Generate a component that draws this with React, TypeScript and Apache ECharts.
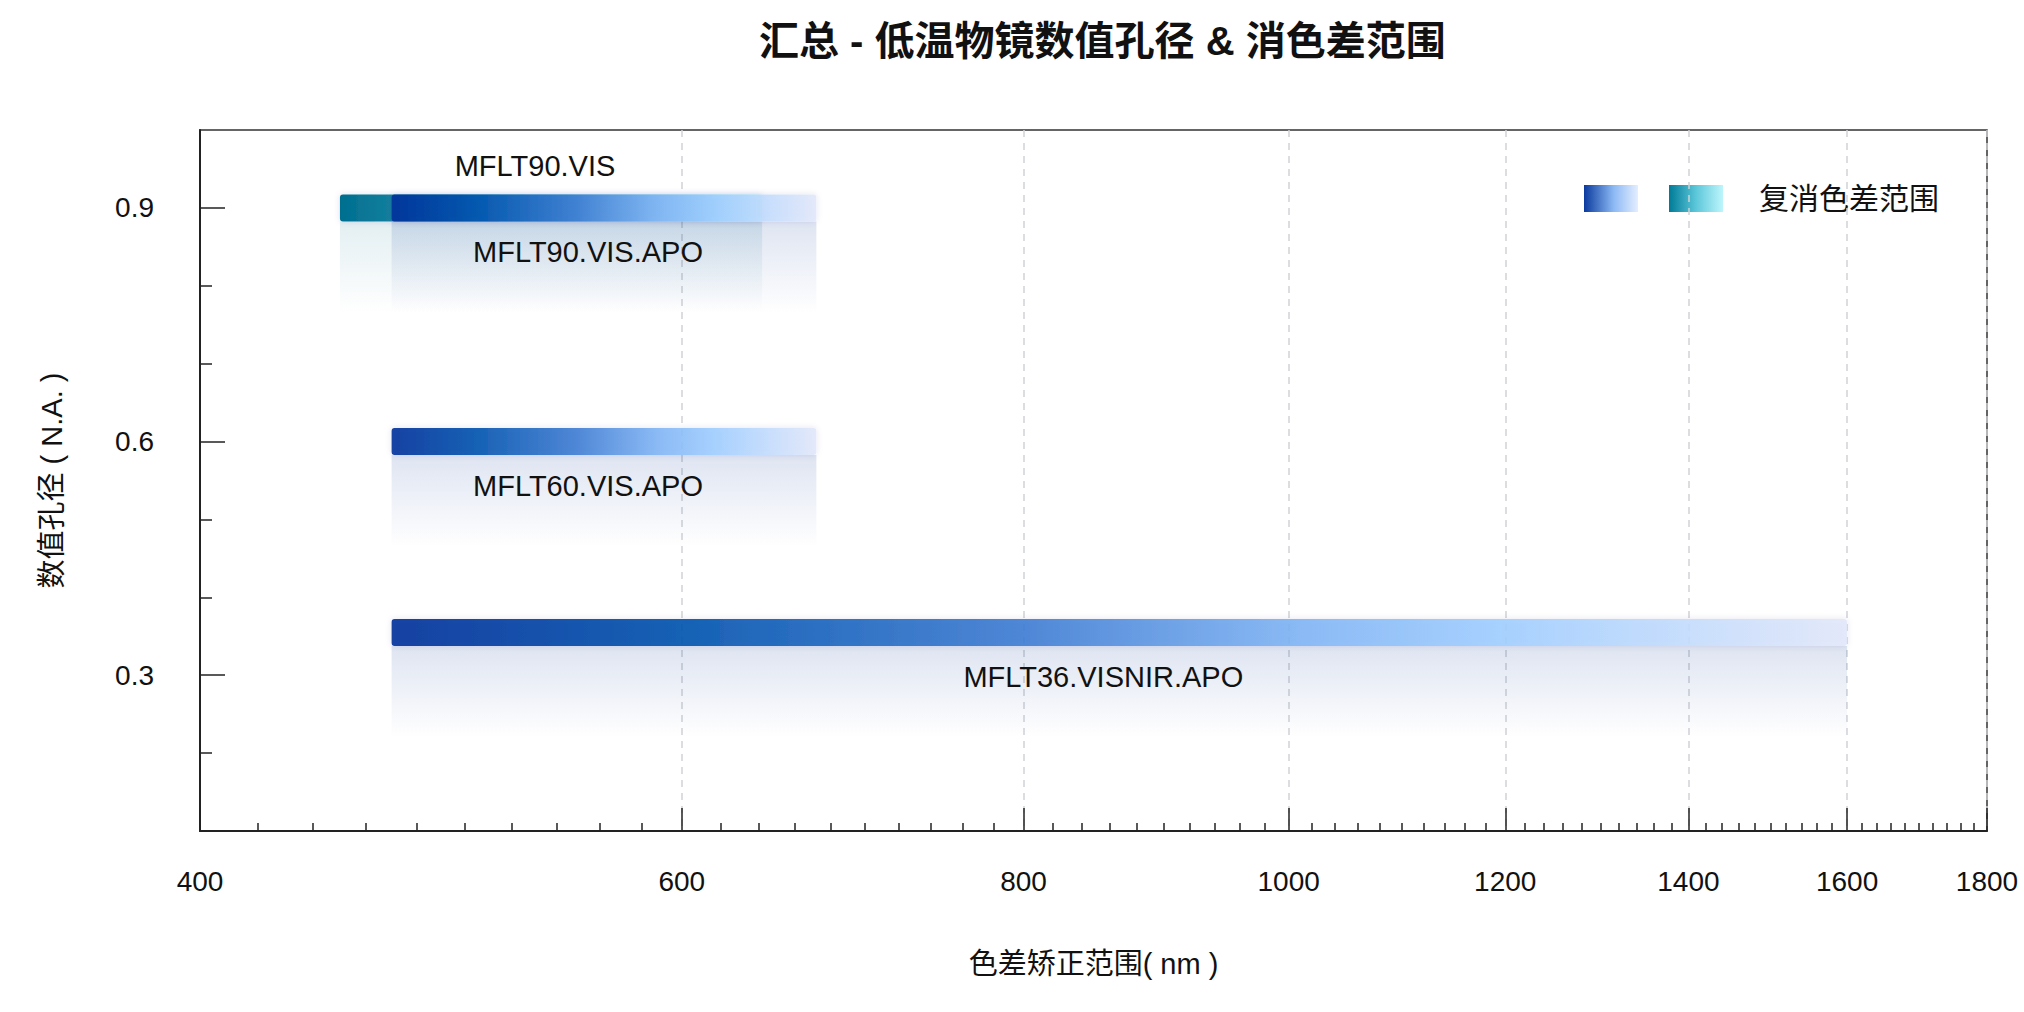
import React, { useEffect, useRef } from 'react';
import * as echarts from 'echarts';

// ---- data ----
const models = ['MFLT90.VIS', 'MFLT90.VIS.APO', 'MFLT60.VIS.APO', 'MFLT36.VISNIR.APO'];
const numericalAperture = [0.9, 0.9, 0.6, 0.355];
const rangeStartNm = [450, 470, 470, 470];
const rangeEndNm = [642, 672, 672, 1600];
const isApochromat = [false, true, true, true];

const xRangeNm = [400, 1800];
const xMajorTicks = [400, 600, 800, 1000, 1200, 1400, 1600, 1800];
const xMinorStepNm = 20;
const yRange = [0.1, 1.0];
const yMajorTicks = [0.3, 0.6, 0.9];
const yMinorTicks = [0.2, 0.4, 0.5, 0.7, 0.8];

const titleText = '汇总 - 低温物镜数值孔径 & 消色差范围';
const xAxisName = '色差矫正范围( nm )';
const yAxisName = '数值孔径 ( N.A. )';
const legendLabel = '复消色差范围';

// ---- styles ----
const FONT = "'Liberation Sans', Arial, 'Noto Sans CJK SC', sans-serif";
const TEXT = '#111';
const AXIS = '#222';

const blueStops = [
  { offset: 0, color: '#002f9a' },
  { offset: 0.2, color: '#0052ae' },
  { offset: 0.43, color: '#3d7bd2' },
  { offset: 0.62, color: '#7fb3f4' },
  { offset: 0.76, color: '#9fcdff' },
  { offset: 0.89, color: '#c4dcfd' },
  { offset: 1, color: '#e2e8fa' },
];
const tealStops = [
  { offset: 0, color: '#006e8f' },
  { offset: 0.5, color: '#4fb5cf' },
  { offset: 1, color: '#bff4fb' },
];

const lg = (x2: number, y2: number, stops: any[]) =>
  new echarts.graphic.LinearGradient(0, 0, x2, y2, stops);

const log10 = (v: number) => Math.log10(v);

function buildMinorTicks(): number[] {
  const out: number[] = [];
  for (let v = xRangeNm[0] + xMinorStepNm; v < xRangeNm[1]; v += xMinorStepNm) {
    if (!xMajorTicks.includes(v)) out.push(v);
  }
  return out;
}

export default function App() {
  const ref = useRef<HTMLDivElement>(null);

  useEffect(() => {
    document.body.style.margin = '0';
    const chart = echarts.init(ref.current!, null, { renderer: 'svg' });

    const seriesData = models.map((m, i) => [
      log10(rangeStartNm[i]),
      log10(rangeEndNm[i]),
      numericalAperture[i],
    ]);

    const renderItem = (params: any, api: any) => {
      const i = params.dataIndex;
      const p0 = api.coord([api.value(0), api.value(2)]);
      const p1 = api.coord([api.value(1), api.value(2)]);
      const apo = isApochromat[i];
      const h = 27;
      const top = p0[1] - h / 2;
      const w = p1[0] - p0[0];
      const fadeH = 92;
      const cx = (p0[0] + p1[0]) / 2 - 16;
      const labelY = apo ? top + h + 31 : top - 28;
      const fadeBase = apo ? '0,50,150' : '0,110,140';
      return {
        type: 'group',
        children: [
          {
            type: 'rect',
            shape: { x: p0[0], y: top + h, width: w, height: fadeH },
            style: {
              fill: lg(0, 1, [
                { offset: 0, color: `rgba(${fadeBase},${apo ? 0.13 : 0.11})` },
                { offset: 1, color: `rgba(${fadeBase},0)` },
              ]),
            },
          },
          {
            type: 'rect',
            shape: { x: p0[0], y: top, width: w, height: h, r: 3 },
            style: {
              fill: lg(1, 0, apo ? blueStops : tealStops),
              opacity: apo ? 0.9 : 1,
              shadowBlur: 6,
              shadowColor: 'rgba(0,40,120,0.12)',
            },
          },
          {
            type: 'text',
            x: cx,
            y: labelY,
            style: {
              text: models[i],
              fill: TEXT,
              fontSize: 29,
              fontFamily: FONT,
              align: 'center',
              verticalAlign: 'middle',
            },
          },
        ],
      };
    };

    const xMin = log10(xRangeNm[0]);
    const xMax = log10(xRangeNm[1]);

    const option: any = {
      animation: false,
      backgroundColor: '#fff',
      textStyle: { fontFamily: FONT },
      title: {
        text: titleText,
        left: 754,
        top: 16,
        textStyle: { fontSize: 40, fontWeight: 'bold', color: TEXT, fontFamily: FONT },
      },
      grid: {
        left: 200,
        right: 37,
        top: 130,
        height: 701,
        show: true,
        borderColor: '#333',
        borderWidth: 1.5,
        backgroundColor: 'transparent',
      },
      xAxis: [
        {
          type: 'value',
          position: 'bottom',
          min: xMin,
          max: xMax,
          name: xAxisName,
          nameLocation: 'middle',
          nameGap: 118,
          nameTextStyle: { fontSize: 29, color: TEXT, fontFamily: FONT },
          axisLine: { show: true, lineStyle: { color: AXIS, width: 2 } },
          axisTick: {
            show: true,
            inside: true,
            length: 23,
            customValues: xMajorTicks.map(log10),
            lineStyle: { color: AXIS, width: 1.5 },
          },
          axisLabel: {
            show: true,
            margin: 36,
            fontSize: 28,
            color: TEXT,
            fontFamily: FONT,
            customValues: xMajorTicks.map(log10),
            formatter: (v: number) => String(Math.round(Math.pow(10, v))),
          },
          splitLine: {
            show: true,
            lineStyle: { color: '#cfd2d6', width: 1.5, type: [7, 6] },
          },
        },
        {
          type: 'value',
          position: 'bottom',
          min: xMin,
          max: xMax,
          axisLine: { show: false },
          axisLabel: { show: false },
          splitLine: { show: false },
          axisTick: {
            show: true,
            inside: true,
            length: 8,
            customValues: buildMinorTicks().map(log10),
            lineStyle: { color: AXIS, width: 1.5 },
          },
        },
      ],
      yAxis: [
        {
          type: 'value',
          position: 'left',
          min: yRange[0],
          max: yRange[1],
          name: yAxisName,
          nameLocation: 'middle',
          nameGap: 134,
          nameTextStyle: { fontSize: 29, color: TEXT, fontFamily: FONT },
          axisLine: { show: true, lineStyle: { color: AXIS, width: 2 } },
          axisTick: {
            show: true,
            inside: true,
            length: 25,
            customValues: yMajorTicks,
            lineStyle: { color: AXIS, width: 1.5 },
          },
          axisLabel: {
            show: true,
            margin: 46,
            fontSize: 28,
            color: TEXT,
            fontFamily: FONT,
            customValues: yMajorTicks,
          },
          splitLine: { show: false },
        },
        {
          type: 'value',
          position: 'left',
          min: yRange[0],
          max: yRange[1],
          axisLine: { show: false },
          axisLabel: { show: false },
          splitLine: { show: false },
          axisTick: {
            show: true,
            inside: true,
            length: 12,
            customValues: yMinorTicks,
            lineStyle: { color: AXIS, width: 1.5 },
          },
        },
      ],
      series: [
        {
          type: 'custom',
          xAxisIndex: 0,
          yAxisIndex: 0,
          encode: { x: [0, 1], y: 2 },
          renderItem,
          data: seriesData,
          z: 5,
        },
      ],
      graphic: [
        {
          type: 'rect',
          left: 1584,
          top: 185,
          shape: { width: 54, height: 27 },
          style: {
            fill: lg(1, 0, [
              { offset: 0, color: '#0a3a9e' },
              { offset: 0.55, color: '#8cb9f4' },
              { offset: 1, color: '#e4eeff' },
            ]),
          },
        },
        {
          type: 'rect',
          left: 1669,
          top: 185,
          shape: { width: 54, height: 27 },
          style: {
            fill: lg(1, 0, [
              { offset: 0, color: '#007b98' },
              { offset: 0.5, color: '#5cc7da' },
              { offset: 1, color: '#bdf6fc' },
            ]),
          },
        },
        {
          type: 'text',
          left: 1759,
          top: 183,
          style: {
            text: legendLabel,
            fill: TEXT,
            fontSize: 30,
            fontFamily: FONT,
          },
        },
      ],
    };

    chart.setOption(option);
    return () => chart.dispose();
  }, []);

  return <div ref={ref} style={{ width: 2024, height: 1012 }} />;
}
